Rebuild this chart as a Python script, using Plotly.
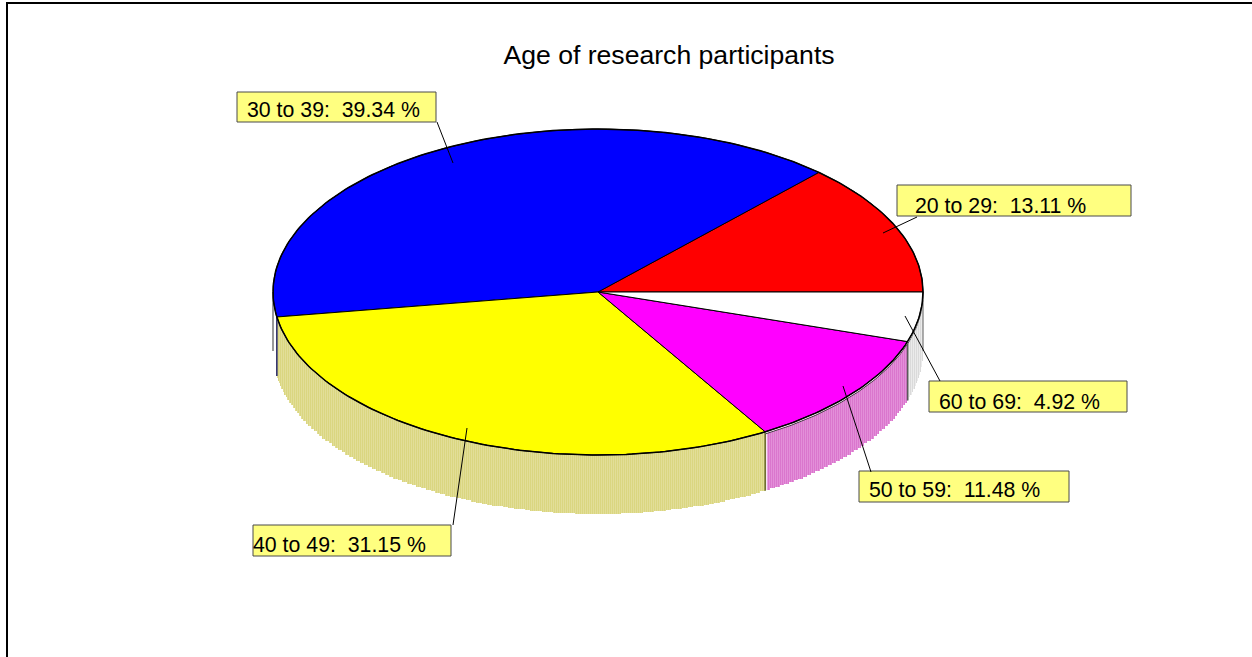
import math
import plotly.graph_objects as go

# Age bands and their share of participants (percent)
age_bands = ["20 to 29", "30 to 39", "40 to 49", "50 to 59", "60 to 69"]
shares = [13.11, 39.34, 31.15, 11.48, 4.92]

top_colors = ["#FF0000", "#0000FF", "#FFFF00", "#FF00FF", "#FFFFFF"]
# Alternating column colours of the side wall; None where no wall shows
wall_colors = [None, None, ("#DAD680", "#E2DE98"), ("#DA76CD", "#E38FD9"), ("#DADADA", "#EBEBEB")]
edge_colors = ["#808080", "#30306A", "#6F6F30", "#5A5A5A", "#999999"]

WIDTH, HEIGHT = 1252, 657
CX, CY, RX, RY, DEPTH = 598, 292, 325, 163, 59


def rim(deg, radius=1.0):
    a = math.radians(deg)
    return CX + RX * radius * math.cos(a), CY - RY * radius * math.sin(a)


def arc(start, end, count):
    return [start + k * (end - start) / count for k in range(count + 1)]


total = sum(shares)
bounds = [0.0]
for s in shares:
    bounds.append(bounds[-1] + 360.0 * s / total)

fig = go.Figure()


def slice_at(deg):
    for i in range(len(shares)):
        if bounds[i] <= deg <= bounds[i + 1]:
            return i
    return len(shares) - 1


# Side wall: one-pixel columns, with the lower edge stepping per degree
columns = {}
for col in range(CX - RX, CX + RX):
    x = col + 0.5
    u = (x - CX) / RX
    deg = 360 - math.degrees(math.acos(u))
    i = slice_at(deg)
    if wall_colors[i] is None:
        continue
    top = rim(deg)[1]
    bottom = rim(math.floor(deg) + 0.5)[1] + DEPTH
    key = (i, col % 2)
    xs, ys = columns.setdefault(key, ([], []))
    xs += [x, x, None]
    ys += [round(top), round(bottom), None]

for (i, parity), (xs, ys) in sorted(columns.items()):
    fig.add_trace(go.Scatter(x=xs, y=ys, mode="lines", hoverinfo="skip",
                             line=dict(color=wall_colors[i][parity], width=1)))

# Vertical wall edges at the slice boundaries on the front half
for i, deg in enumerate([180.0, bounds[2], bounds[3], bounds[4], 360.0]):
    x, y = rim(deg)
    fig.add_trace(go.Scatter(x=[x, x], y=[y, y + DEPTH], mode="lines", hoverinfo="skip",
                             line=dict(color=edge_colors[i], width=1.6)))

# Light gap just right of the boundary between the yellow and magenta walls
gap_x, gap_y = rim(bounds[3])
fig.add_trace(go.Scatter(x=[gap_x + 1.5, gap_x + 1.5], y=[gap_y, gap_y + DEPTH], mode="lines",
                         hoverinfo="skip", line=dict(color="#FFFFFF", width=1)))

# Second rim line below the magenta and white slices, separated by a light gap
lower = arc(bounds[3], 358.0, 80)
fig.add_trace(go.Scatter(x=[rim(d)[0] for d in lower], y=[rim(d)[1] + 2.2 for d in lower],
                         mode="lines", hoverinfo="skip", line=dict(color="#444444", width=1)))
fig.add_trace(go.Scatter(x=[rim(d)[0] for d in lower], y=[rim(d)[1] + 1 for d in lower],
                         mode="lines", hoverinfo="skip", line=dict(color="#FFFFFF", width=1)))

# Top face wedges
for i in range(len(shares)):
    steps = max(2, int(bounds[i + 1] - bounds[i]) * 2)
    degs = arc(bounds[i], bounds[i + 1], steps)
    xs = [CX] + [rim(d)[0] for d in degs] + [CX]
    ys = [CY] + [rim(d)[1] for d in degs] + [CY]
    fig.add_trace(go.Scatter(x=xs, y=ys, mode="lines", fill="toself", fillcolor=top_colors[i],
                             hovertemplate=f"{age_bands[i]}: {shares[i]:.2f} %<extra></extra>",
                             line=dict(color="#000000", width=1)))

# Heavier outline around the whole top face
outline = arc(0.0, 360.0, 360)
fig.add_trace(go.Scatter(x=[rim(d)[0] for d in outline], y=[rim(d)[1] for d in outline],
                         mode="lines", hoverinfo="skip", line=dict(color="#000000", width=1.5)))

# Callouts: box (x0, y0, x1, y1), text start and vertical centre, leader line ends
callouts = [
    dict(box=(897, 185, 1131, 216), text=(915, 205.5), leader=((883, 233), (917, 217))),
    dict(box=(237, 92, 436, 122), text=(247, 109.5), leader=((453, 163), (437, 122))),
    dict(box=(253, 525, 451, 556), text=(253, 544.5), leader=((467, 428), (453, 525))),
    dict(box=(859, 471, 1069, 502), text=(869, 489.5), leader=((843, 386), (871, 472))),
    dict(box=(929, 381, 1127, 412), text=(939, 402), leader=((905, 316), (940, 381))),
]

shapes = []
annotations = []
for band, share, c in zip(age_bands, shares, callouts):
    x0, y0, x1, y1 = c["box"]
    shapes.append(dict(type="rect", x0=x0, y0=y0, x1=x1, y1=y1, xref="x", yref="y",
                       fillcolor="#FFFF80", line=dict(color="#4A4A4A", width=1)))
    (lx0, ly0), (lx1, ly1) = c["leader"]
    shapes.append(dict(type="line", x0=lx0, y0=ly0, x1=lx1, y1=ly1, xref="x", yref="y",
                       line=dict(color="#000000", width=1)))
    tx, ty = c["text"]
    annotations.append(dict(x=tx, y=ty, xref="x", yref="y", xanchor="left", yanchor="middle",
                            text=f"{band}:  {share:.2f} %", showarrow=False, borderpad=0, borderwidth=0,
                            font=dict(family="Liberation Sans", size=21.3, color="#000000")))

# Frame along the top and left of the page
shapes.append(dict(type="line", x0=6, y0=3, x1=WIDTH, y1=3, xref="x", yref="y",
                   line=dict(color="#000000", width=2)))
shapes.append(dict(type="line", x0=7, y0=2, x1=7, y1=HEIGHT, xref="x", yref="y",
                   line=dict(color="#000000", width=2)))

fig.update_layout(
    width=WIDTH, height=HEIGHT, margin=dict(l=0, r=0, t=0, b=0),
    paper_bgcolor="#FFFFFF", plot_bgcolor="#FFFFFF", showlegend=False,
    xaxis=dict(range=[0, WIDTH], visible=False, fixedrange=True),
    yaxis=dict(range=[HEIGHT, 0], visible=False, fixedrange=True),
    title=dict(text="Age of research participants", x=669 / WIDTH, xanchor="center",
               y=1 - 55 / HEIGHT, yanchor="middle",
               font=dict(family="Liberation Sans", size=26.6, color="#000000")),
    shapes=shapes, annotations=annotations,
)

fig.write_html("out.html", config=dict(displayModeBar=False))
